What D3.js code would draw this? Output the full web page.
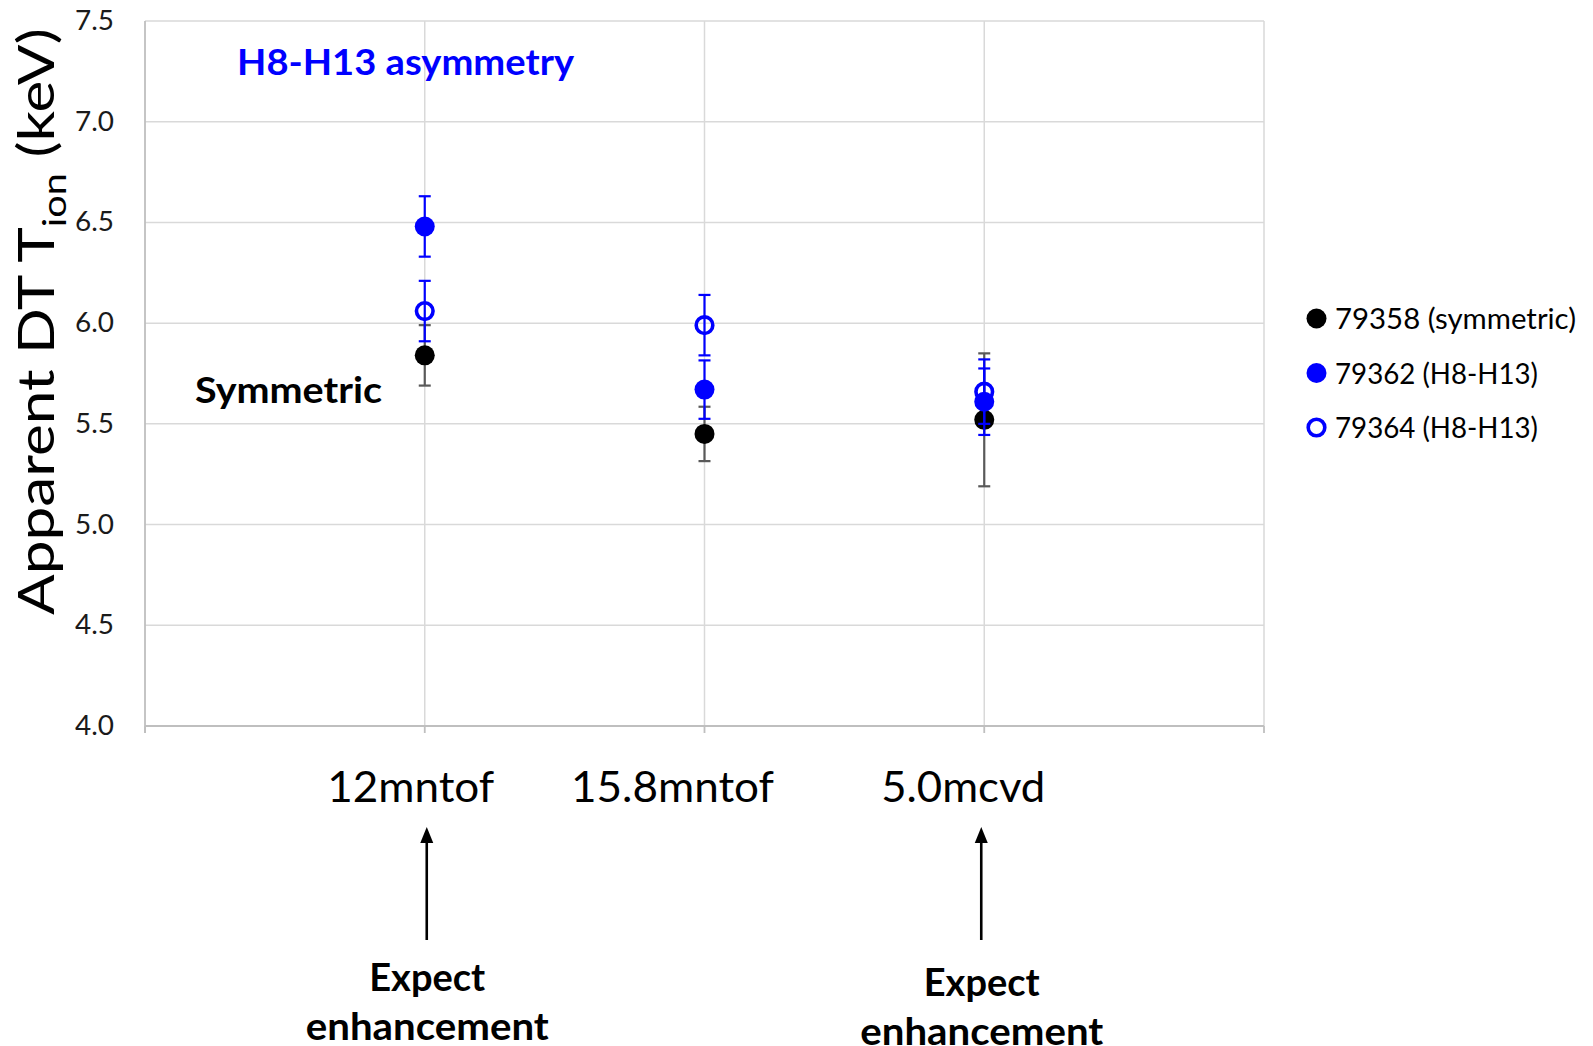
<!DOCTYPE html>
<html>
<head>
<meta charset="utf-8">
<script src="https://cdn.jsdelivr.net/npm/d3@7"></script>
<style>
  html, body { margin: 0; padding: 0; background: #ffffff; }
  svg { display: block; }
</style>
</head>
<body>
<svg id="chart" width="1593" height="1046"></svg>
<script>
// ---------------- data ----------------
const categories = ["12mntof", "15.8mntof", "5.0mcvd"];
const yTicks = [4.0, 4.5, 5.0, 5.5, 6.0, 6.5, 7.0, 7.5];
const seriesNames = ["79358 (symmetric)", "79362 (H8-H13)", "79364 (H8-H13)"];
const values79358 = [5.84, 5.45, 5.52];
const errors79358 = [0.15, 0.135, 0.33];
const values79362 = [6.48, 5.67, 5.61];
const errors79362 = [0.15, 0.145, 0.165];
const values79364 = [6.06, 5.99, 5.66];
const errors79364 = [0.15, 0.15, 0.16];
const annotationTitle = "H8-H13 asymmetry";
const annotationSym = "Symmetric";
const expectLines = ["Expect", "enhancement"];
const expectCategories = [0, 2]; // indices of categories with arrows

// ---------------- layout ----------------
const svg = d3.select("#chart");
const W = 1593, H = 1046;
const plot = { left: 145, right: 1264, top: 21, bottom: 726 };
const x = d3.scaleLinear().domain([0, categories.length + 1]).range([plot.left, plot.right]);
const y = d3.scaleLinear().domain([4.0, 7.5]).range([plot.bottom, plot.top]);
const FONT = "Lato, 'Open Sans', 'DejaVu Sans', sans-serif";
const BLUE = "#0000ff";

svg.append("rect").attr("width", W).attr("height", H).attr("fill", "#fff");

function fitText(sel, width) {
  sel.attr("textLength", width).attr("lengthAdjust", "spacingAndGlyphs");
  return sel;
}

// gridlines
const grid = svg.append("g");
grid.selectAll("line.h").data(yTicks.slice(1)).join("line")
  .attr("x1", plot.left).attr("x2", plot.right)
  .attr("y1", d => y(d)).attr("y2", d => y(d))
  .attr("stroke", "#d9d9d9").attr("stroke-width", 1.5);
const xGridVals = d3.range(1, categories.length + 2);
grid.selectAll("line.v").data(xGridVals).join("line")
  .attr("x1", d => x(d)).attr("x2", d => x(d))
  .attr("y1", plot.top).attr("y2", plot.bottom)
  .attr("stroke", "#d9d9d9").attr("stroke-width", 1.5);

// axes lines
svg.append("line").attr("x1", plot.left).attr("x2", plot.left)
  .attr("y1", plot.top).attr("y2", plot.bottom + 7)
  .attr("stroke", "#bfbfbf").attr("stroke-width", 1.8);
svg.append("line").attr("x1", plot.left).attr("x2", plot.right)
  .attr("y1", plot.bottom).attr("y2", plot.bottom)
  .attr("stroke", "#bfbfbf").attr("stroke-width", 1.8);
svg.selectAll("line.xt").data(d3.range(0, categories.length + 2)).join("line")
  .attr("x1", d => x(d)).attr("x2", d => x(d))
  .attr("y1", plot.bottom).attr("y2", plot.bottom + 7)
  .attr("stroke", "#bfbfbf").attr("stroke-width", 1.8);

// y tick labels
svg.selectAll("text.yt").data(yTicks).join("text")
  .attr("x", 114).attr("y", d => y(d) + 9)
  .attr("text-anchor", "end")
  .attr("font-family", FONT).attr("font-size", 26).attr("fill", "#1a1a1a")
  .text(d => d.toFixed(1))
  .call(s => fitText(s, 39));

// y title
const yt = svg.append("text")
  .attr("font-family", FONT).attr("font-size", 50).attr("fill", "#000")
  .attr("text-anchor", "middle");
yt.append("tspan").text("Apparent DT T");
yt.append("tspan").attr("font-size", 33).attr("dy", 12).text("ion");
yt.append("tspan").attr("dy", -12).text(" (keV)");
{
  const len = yt.node().getComputedTextLength();
  const sx = 587 / len;
  yt.attr("transform", `translate(54,${(28 + 615) / 2}) rotate(-90) scale(${sx},1)`);
}

// x category labels
const labelNudge = [-14, -32, -21];
const labelWidths = [167, 203, 164];
svg.selectAll("text.cat").data(categories).join("text")
  .attr("x", (d, i) => x(i + 1) + labelNudge[i] - labelWidths[i] / 2)
  .attr("y", 802)
  .attr("font-family", FONT).attr("font-size", 43).attr("fill", "#000")
  .text(d => d)
  .each(function(d, i) { fitText(d3.select(this), labelWidths[i]); });

// series
const series = [
  { name: seriesNames[0], vals: values79358, errs: errors79358, color: "#000", errColor: "#595959", open: false },
  { name: seriesNames[1], vals: values79362, errs: errors79362, color: BLUE, errColor: BLUE, open: false },
  { name: seriesNames[2], vals: values79364, errs: errors79364, color: BLUE, errColor: BLUE, open: true }
];
const capW = 12;
series.forEach(s => {
  const g = svg.append("g");
  const pts = s.vals.map((v, i) => ({ cx: x(i + 1), v, e: s.errs[i] }));
  g.selectAll("line.eb").data(pts).join("line")
    .attr("x1", d => d.cx).attr("x2", d => d.cx)
    .attr("y1", d => y(d.v - d.e)).attr("y2", d => y(d.v + d.e))
    .attr("stroke", s.errColor).attr("stroke-width", 2.2);
  ["-", "+"].forEach(sign => {
    g.selectAll("line.cap" + (sign === "+" ? "p" : "m")).data(pts).join("line")
      .attr("x1", d => d.cx - capW / 2).attr("x2", d => d.cx + capW / 2)
      .attr("y1", d => y(sign === "+" ? d.v + d.e : d.v - d.e))
      .attr("y2", d => y(sign === "+" ? d.v + d.e : d.v - d.e))
      .attr("stroke", s.errColor).attr("stroke-width", 2.2);
  });
  g.selectAll("circle").data(pts).join("circle")
    .attr("cx", d => d.cx).attr("cy", d => y(d.v))
    .attr("r", s.open ? 8.3 : 10)
    .attr("fill", s.open ? "none" : s.color)
    .attr("stroke", s.open ? s.color : "none")
    .attr("stroke-width", s.open ? 3.6 : 0);
});

// legend
const legendRows = [318.5, 373, 427.5];
const legendWidths = [241, 203, 203];
const lg = svg.append("g");
series.forEach((s, i) => {
  lg.append("circle").attr("cx", 1316.5).attr("cy", legendRows[i])
    .attr("r", s.open ? 8.3 : 10)
    .attr("fill", s.open ? "none" : s.color)
    .attr("stroke", s.open ? s.color : "none")
    .attr("stroke-width", s.open ? 3.6 : 0);
  lg.append("text").attr("x", 1335).attr("y", legendRows[i] + 10.5)
    .attr("font-family", FONT).attr("font-size", 29).attr("fill", "#000")
    .text(s.name)
    .call(t => fitText(t, legendWidths[i]));
});

// annotations
svg.append("text").attr("x", 237).attr("y", 75)
  .attr("font-family", FONT).attr("font-size", 37).attr("font-weight", "bold")
  .attr("fill", BLUE).text(annotationTitle)
  .call(t => fitText(t, 337));
svg.append("text").attr("x", 195).attr("y", 403)
  .attr("font-family", FONT).attr("font-size", 37).attr("font-weight", "bold")
  .attr("fill", "#000").text(annotationSym)
  .call(t => fitText(t, 187));

// arrows + expect text
const arrowNudge = [2, -3];
const expectShift = [0, 5];
expectCategories.forEach((ci, k) => {
  const ax = x(ci + 1) + arrowNudge[k];
  svg.append("line").attr("x1", ax).attr("x2", ax)
    .attr("y1", 940).attr("y2", 840)
    .attr("stroke", "#000").attr("stroke-width", 2.6);
  svg.append("path")
    .attr("d", `M${ax},827 L${ax - 6.5},843 L${ax + 6.5},843 Z`)
    .attr("fill", "#000");
  const widths = [116, 243];
  const baselines = [991, 1040];
  expectLines.forEach((t, j) => {
    svg.append("text")
      .attr("x", ax + 0.5 - widths[j] / 2).attr("y", baselines[j] + expectShift[k])
      .attr("font-family", FONT).attr("font-size", 38).attr("font-weight", "bold")
      .attr("fill", "#000").text(t)
      .call(s => fitText(s, widths[j]));
  });
});
</script>
</body>
</html>
